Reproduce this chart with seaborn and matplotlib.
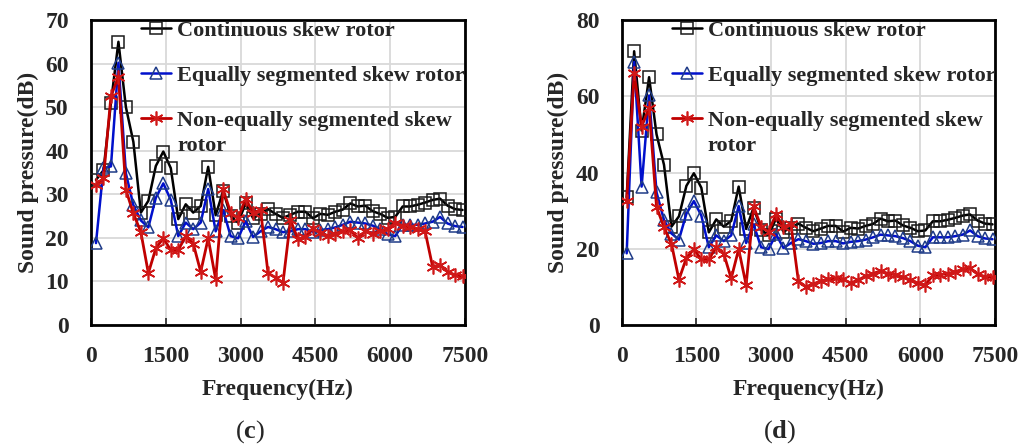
import matplotlib
matplotlib.use("Agg")
import matplotlib.pyplot as plt
import seaborn as sns
from matplotlib.lines import Line2D

# ---------------- data ----------------
freq = [100, 250, 400, 550, 700, 850, 1000, 1150, 1300, 1450,
        1600, 1750, 1900, 2050, 2200, 2350, 2500, 2650, 2800, 2950,
        3100, 3250, 3400, 3550, 3700, 3850, 4000, 4150, 4300, 4450,
        4600, 4750, 4900, 5050, 5200, 5350, 5500, 5650, 5800, 5950,
        6100, 6250, 6400, 6550, 6700, 6850, 7000, 7150, 7300, 7450]

# panel (c)
cont_c = [33.3, 35.5, 51.0, 65.0, 50.0, 42.0, 25.8, 28.5, 36.5, 39.8,
          36.0, 24.3, 27.7, 25.8, 27.3, 36.3, 25.2, 30.8, 25.0, 23.5,
          27.9, 24.5, 25.5, 26.6, 25.5, 24.6, 25.3, 26.0, 26.0, 24.5,
          25.5, 25.3, 26.0, 26.5, 27.9, 27.2, 27.4, 26.1, 25.5, 24.6,
          24.8, 27.2, 27.2, 27.6, 28.1, 28.7, 29.0, 27.4, 26.6, 26.4]
eq_c = [18.8, 36.0, 36.4, 60.2, 34.8, 27.5, 24.0, 22.4, 29.2, 32.5,
        28.7, 20.4, 23.5, 22.0, 23.5, 31.2, 21.5, 26.4, 20.4, 19.9,
        23.8, 20.2, 21.5, 22.5, 22.0, 21.3, 21.5, 22.0, 22.0, 21.4,
        21.8, 22.0, 22.4, 23.0, 23.7, 23.5, 23.3, 22.8, 22.0, 20.8,
        20.4, 23.0, 23.0, 23.0, 23.3, 23.7, 24.8, 23.3, 22.7, 22.5]
neq_c = [32.1, 33.7, 52.5, 57.0, 31.0, 25.6, 21.3, 11.9, 17.6, 19.9,
         17.2, 17.2, 20.4, 18.7, 12.2, 19.9, 10.5, 31.1, 25.8, 24.5,
         29.0, 25.8, 26.4, 11.9, 10.9, 9.7, 24.1, 19.7, 20.3, 22.2,
         21.2, 20.5, 21.0, 21.5, 21.7, 20.0, 21.5, 21.0, 21.5, 22.0,
         23.5, 22.7, 22.4, 22.0, 21.5, 13.4, 13.8, 12.2, 11.5, 11.2]

# panel (d)
cont_d = [33.5, 71.8, 51.0, 65.0, 50.0, 42.0, 25.8, 28.5, 36.5, 39.8,
          36.0, 24.3, 27.7, 25.8, 27.3, 36.3, 25.2, 30.8, 25.0, 23.5,
          27.9, 24.5, 25.5, 26.6, 25.5, 24.6, 25.3, 26.0, 26.0, 24.5,
          25.5, 25.3, 26.0, 26.5, 27.9, 27.2, 27.4, 26.1, 25.5, 24.6,
          24.8, 27.2, 27.2, 27.6, 28.1, 28.7, 29.0, 27.4, 26.6, 26.4]
eq_d = [18.8, 69.0, 36.3, 60.2, 34.8, 27.5, 24.0, 22.4, 29.2, 32.5,
        28.7, 20.4, 23.5, 22.0, 23.5, 31.2, 21.5, 26.4, 20.4, 19.9,
        23.8, 20.2, 21.5, 22.5, 22.0, 21.3, 21.5, 22.0, 22.0, 21.4,
        21.8, 22.0, 22.4, 23.0, 23.7, 23.5, 23.3, 22.8, 22.0, 20.8,
        20.4, 23.0, 23.0, 23.0, 23.3, 23.7, 24.8, 23.3, 22.7, 22.5]
neq_d = [32.5, 66.0, 52.0, 57.0, 31.0, 25.6, 21.3, 11.9, 17.6, 19.9,
         17.2, 17.2, 20.4, 18.7, 12.2, 19.9, 10.5, 31.1, 25.8, 24.5,
         29.0, 25.8, 26.4, 11.5, 10.0, 10.8, 11.5, 12.0, 12.2, 12.0,
         11.0, 11.8, 12.8, 13.5, 14.2, 13.5, 13.2, 12.6, 11.8, 11.0,
         10.5, 13.0, 13.2, 13.5, 14.0, 14.6, 15.0, 13.3, 12.7, 12.5]

series_labels = ["Continuous skew rotor",
                 "Equally segmented skew rotor",
                 "Non-equally segmented skew rotor"]
x_ticks = [0, 1500, 3000, 4500, 6000, 7500]

# ---------------- style ----------------
sns.set_style("white")
plt.rcParams['font.family'] = ['Liberation Serif', 'DejaVu Serif']
plt.rcParams['font.weight'] = 'bold'
plt.rcParams['mathtext.fontset'] = 'custom'
plt.rcParams['mathtext.rm'] = 'Liberation Serif'
plt.rcParams['mathtext.bf'] = 'Liberation Serif:bold'

line_styles = [
    dict(color='black', lw=1.8, marker='s', ms=8, mec='#1a1a1a', mew=1.1, z=3),
    dict(color='#0010CC', lw=1.8, marker='^', ms=8, mec='#1F3C88', mew=1.1, z=4),
    dict(color='#C00000', lw=2.0, marker=(6, 2, 0), ms=10, mec='#D01818', mew=1.2, z=5),
]

fig = plt.figure(figsize=(10.35, 4.48), dpi=100)
axL = fig.add_axes([91 / 1035, 123 / 448, 374 / 1035, 305 / 448])
axR = fig.add_axes([621.7 / 1035, 123 / 448, 373.3 / 1035, 305 / 448])


def draw_panel(ax, series, ymax, ystep, caption, cap_x):
    for vals, st in zip(series, line_styles):
        sns.lineplot(x=freq, y=vals, ax=ax, color=st['color'], linewidth=st['lw'],
                     marker=st['marker'], markersize=st['ms'],
                     markerfacecolor='none', markeredgecolor=st['mec'],
                     markeredgewidth=st['mew'], estimator=None, sort=False,
                     legend=False, zorder=st['z'])
    ax.set_xlim(0, 7500)
    ax.set_ylim(0, ymax)
    ax.set_xticks(x_ticks)
    ax.set_yticks(list(range(0, ymax + 1, ystep)))
    ax.grid(True, color='#D9D9D9', linewidth=1.3)
    ax.set_axisbelow(True)
    for s in ax.spines.values():
        s.set_visible(True)
        s.set_linewidth(2.0)
        s.set_color('black')
    ax.tick_params(axis='x', direction='in', length=5, width=1.2, pad=15,
                   labelsize=17, bottom=True)
    ax.tick_params(axis='y', length=0, pad=16, labelsize=17)
    ax.set_xlabel("Frequency(Hz)", fontsize=17, fontweight='bold')
    ax.set_ylabel("Sound pressure(dB)", fontsize=17, fontweight='bold')
    ax.xaxis.set_label_coords(0.5, -0.175)
    ax.yaxis.set_label_coords(-0.14, 0.5)

    handles = [Line2D([], [], color=st['color'], lw=st['lw'], marker=st['marker'],
                      markersize=st['ms'], markerfacecolor='none',
                      markeredgecolor=st['mec'], markeredgewidth=st['mew'])
               for st in line_styles]
    first_lines = [series_labels[0], series_labels[1], "Non-equally segmented skew"]
    leg = ax.legend(handles, first_lines, loc='upper left',
                    bbox_to_anchor=(0.135, 0.998), frameon=False, borderpad=0,
                    borderaxespad=0, handlelength=1.35, handletextpad=0.25,
                    labelspacing=1.1,
                    prop=dict(family='Liberation Serif', weight='bold', size=16))
    t = leg.get_texts()[2]
    ax.annotate("rotor", xy=(0, 0), xycoords=t, xytext=(0, -3.6),
                textcoords='offset points', ha='left', va='top', fontsize=16,
                fontweight='bold', annotation_clip=False, zorder=6)
    fig.text(cap_x, 0.036, r'($\mathbf{' + caption + '}$)', ha='center',
             va='center', fontsize=19, fontweight='normal')


draw_panel(axL, [cont_c, eq_c, neq_c], 70, 10, 'c', 250 / 1035)
draw_panel(axR, [cont_d, eq_d, neq_d], 80, 20, 'd', 780 / 1035)

fig.canvas.draw()
fig.savefig("out.png", dpi=100)
